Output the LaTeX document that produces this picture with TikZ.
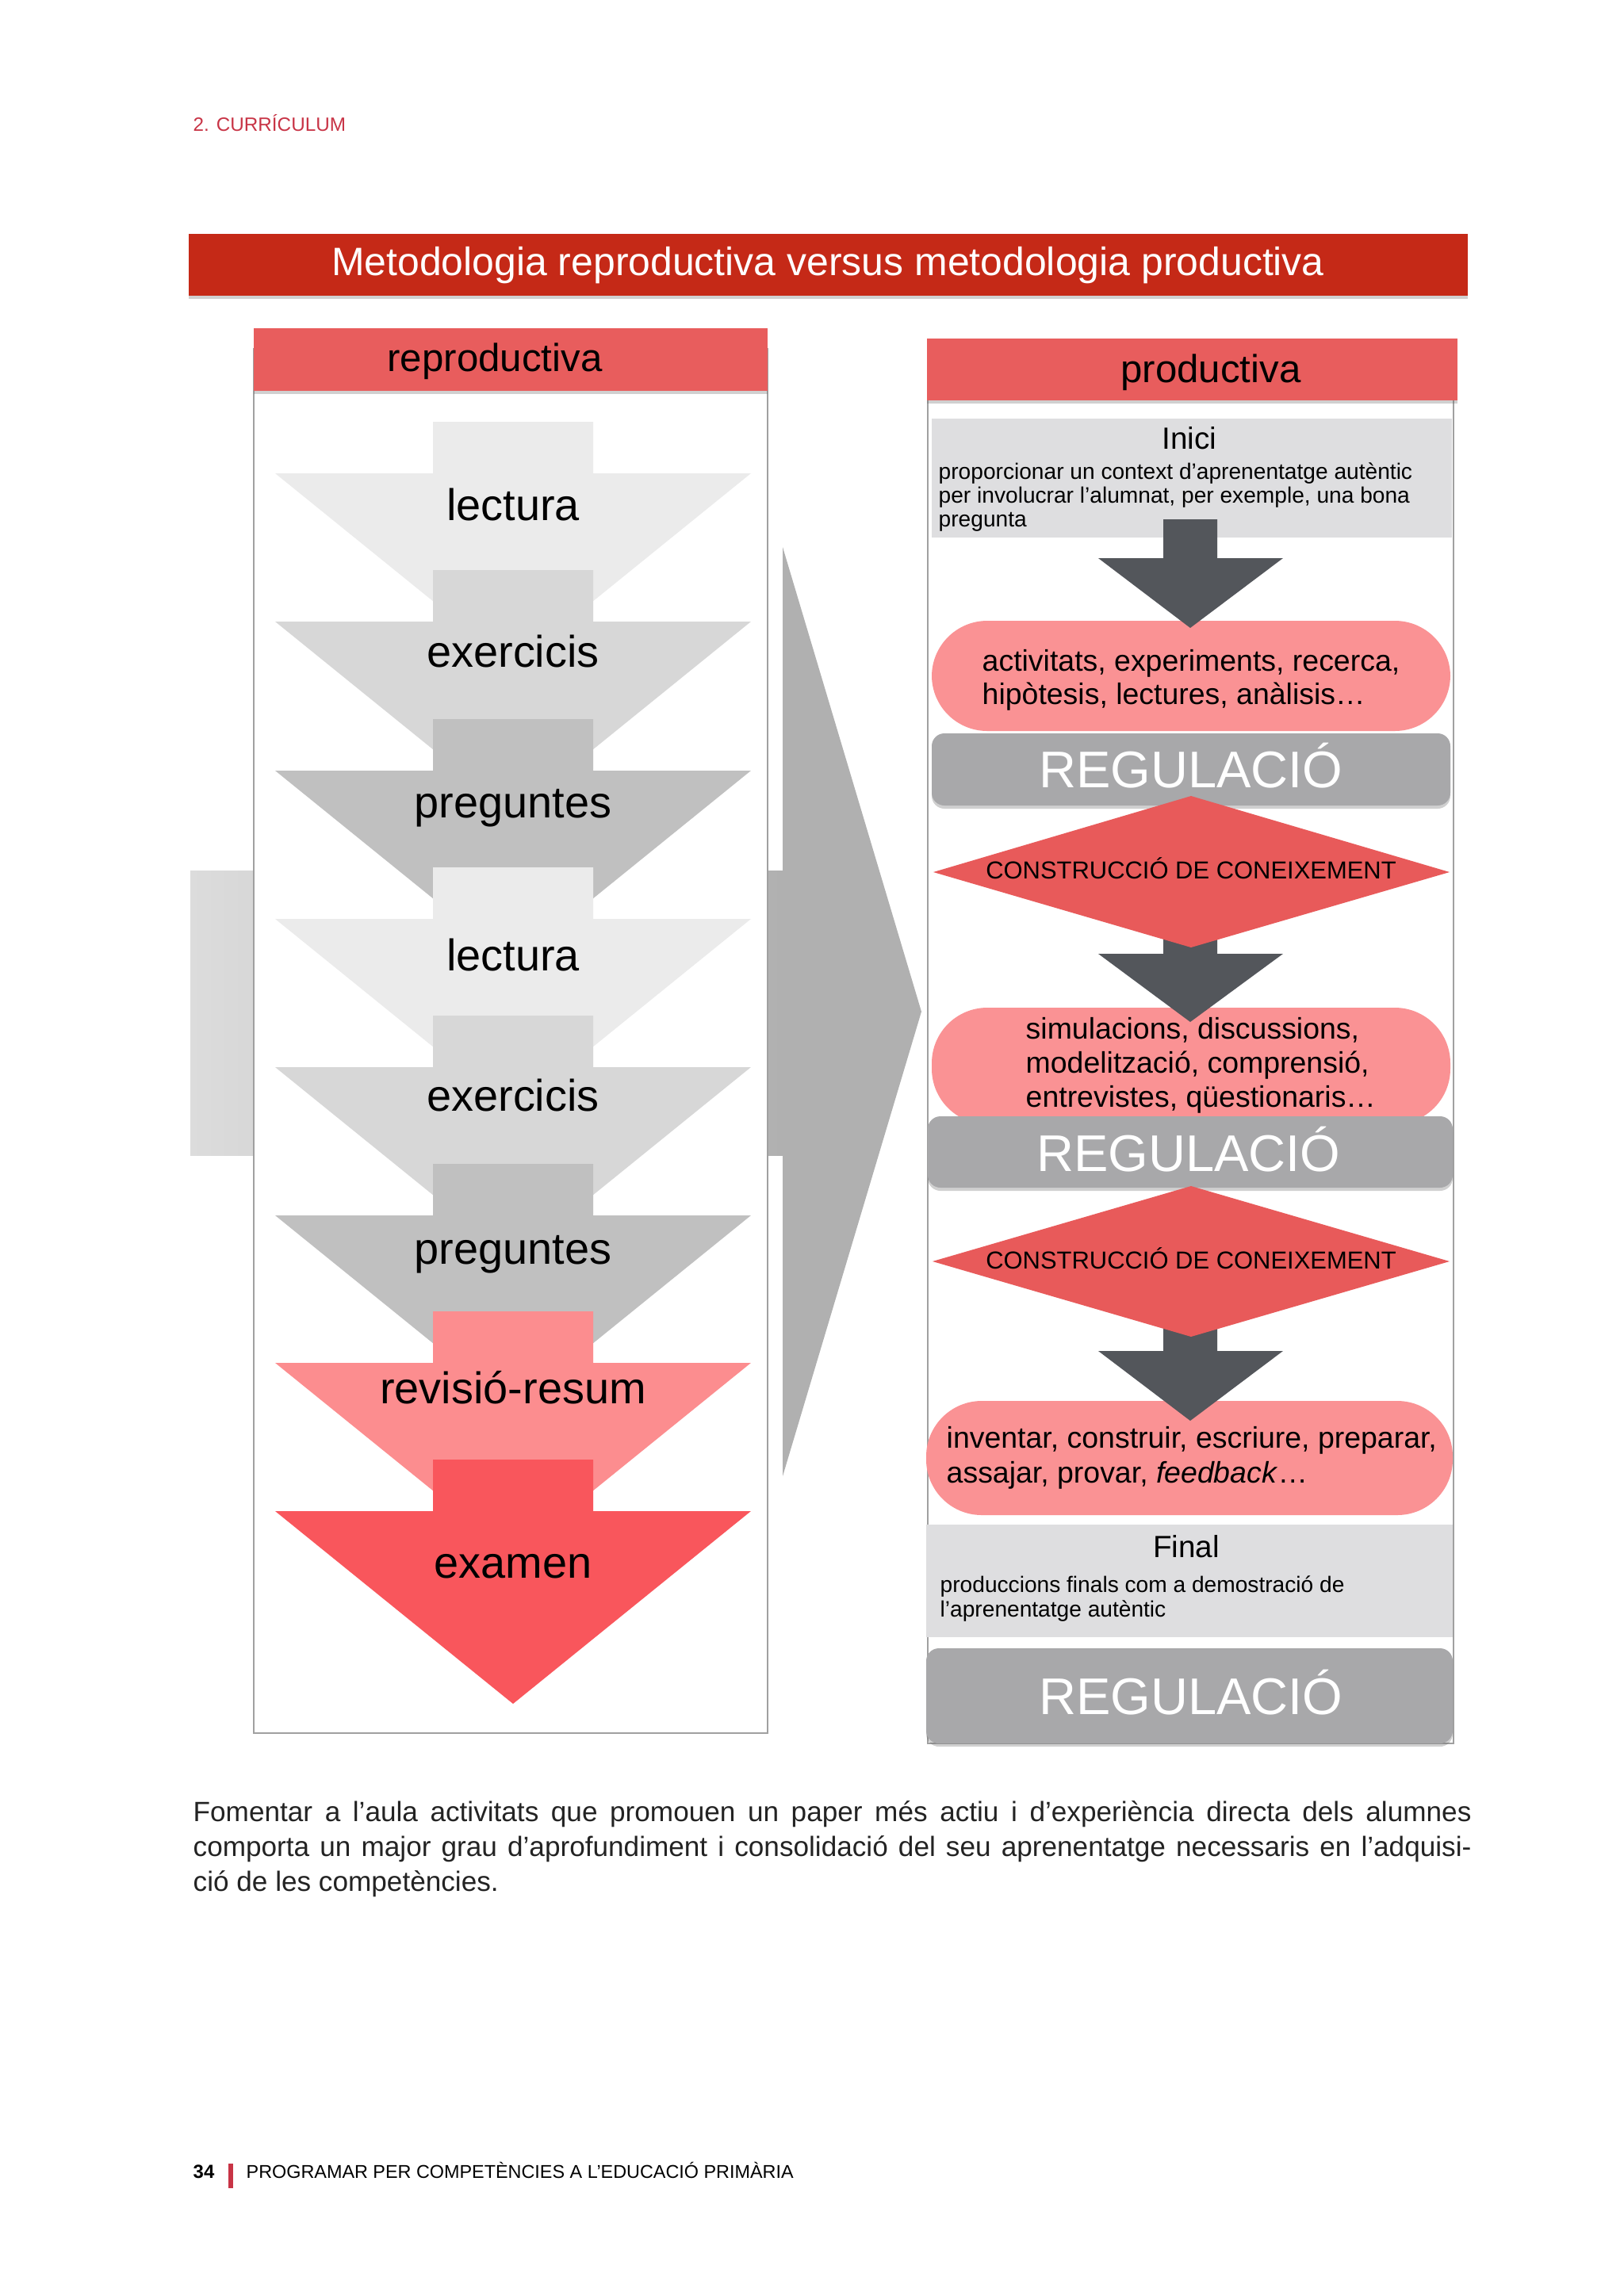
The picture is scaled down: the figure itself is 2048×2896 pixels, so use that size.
\documentclass[tikz,border=0pt]{standalone}
\usepackage{fontspec}
\setmainfont{Liberation Sans}
\usetikzlibrary{shadows}

\definecolor{titlered}{RGB}{197,41,23}
\definecolor{headred}{RGB}{232,93,93}
\definecolor{lect}{RGB}{235,235,235}
\definecolor{exer}{RGB}{215,215,215}
\definecolor{preg}{RGB}{192,192,192}
\definecolor{revi}{RGB}{252,141,143}
\definecolor{exam}{RGB}{249,86,92}
\definecolor{darkarrow}{RGB}{83,86,91}
\definecolor{pillpink}{RGB}{250,146,148}
\definecolor{reggray}{RGB}{168,168,170}
\definecolor{diamred}{RGB}{232,90,90}
\definecolor{boxgray}{RGB}{222,222,224}
\definecolor{bigarrow}{RGB}{176,176,176}
\definecolor{bigarrowlight}{RGB}{220,220,220}
\definecolor{framegray}{RGB}{160,160,160}
\definecolor{pagered}{RGB}{200,52,70}
\definecolor{bodytext}{RGB}{35,35,35}

\tikzset{
  softshadow/.style={drop shadow={shadow xshift=0pt, shadow yshift=-0.04cm, opacity=0.3, fill=black!60}},
  frame/.style={fill=white, draw=framegray, line width=0.6pt},
  steplbl/.style={anchor=base, inner sep=0pt, font=\fontsize{15.9}{18}\selectfont},
  headlbl/.style={anchor=base, inner sep=0pt, font=\fontsize{14}{16}\selectfont},
  regbar/.style={fill=reggray, rounded corners=0.16cm, softshadow},
  reglbl/.style={anchor=base, inner sep=0pt, text=white, font=\fontsize{18.5}{20}\selectfont},
  pill/.style={fill=pillpink, rounded corners=0.7cm},
  pilltxt/.style={anchor=base west, inner sep=0pt, font=\fontsize{10.65}{12}\selectfont},
  diamlbl/.style={anchor=base, inner sep=0pt, font=\fontsize{8.8}{10}\selectfont},
  boxhead/.style={anchor=base, inner sep=0pt, font=\fontsize{11}{13}\selectfont},
  boxtxt/.style={anchor=base west, inner sep=0pt, font=\fontsize{8}{9}\selectfont},
  bodyline/.style={anchor=base west, inner sep=0pt, text=bodytext, font=\fontsize{10}{12}\selectfont}
}

\begin{document}
\begin{tikzpicture}[x=0.01cm, y=-0.01cm]
  \useasboundingbox (0,0) rectangle (2048,2896);
  \fill[white] (0,0) rectangle (2048,2896);

  % page header and title
  \node[anchor=base west, inner sep=0pt, text=pagered, font=\fontsize{6.9}{8}\selectfont] (chap) at (243,165) {2. CURRÍCULUM};
  \fill[titlered, softshadow] (238,295) rectangle (1851,373);
  \node[anchor=base, inner sep=0pt, text=white, font=\fontsize{14.2}{16}\selectfont] (title) at (1044,347) {Metodologia reproductiva versus metodologia productiva};

  % big arrow between the columns
  \shade[left color=bigarrowlight, right color=bigarrow] (240,1098) rectangle (988,1457);
  \fill[bigarrow] (987,690) -- (1162,1276) -- (987,1862) -- cycle;

  % reproductiva
  \fill[frame] (320,440) rectangle (968,2186);
  \fill[headred, softshadow] (320,414) rectangle (968,493);
  \node[headlbl] (repro) at (624,468) {reproductiva};

  \fill[lect] (546,532) -- (748,532) -- (748,597) -- (947,597) -- (647,840) -- (347,597) -- (546,597) -- cycle;
  \node[steplbl] (lect1) at (647,656) {lectura};
  \fill[exer] (546,719) -- (748,719) -- (748,784) -- (947,784) -- (647,1027) -- (347,784) -- (546,784) -- cycle;
  \node[steplbl] (exer1) at (647,841) {exercicis};
  \fill[preg] (546,907) -- (748,907) -- (748,972) -- (947,972) -- (647,1215) -- (347,972) -- (546,972) -- cycle;
  \node[steplbl] (preg1) at (647,1031) {preguntes};
  \fill[lect] (546,1094) -- (748,1094) -- (748,1159) -- (947,1159) -- (647,1402) -- (347,1159) -- (546,1159) -- cycle;
  \node[steplbl] (lect2) at (647,1224) {lectura};
  \fill[exer] (546,1281) -- (748,1281) -- (748,1346) -- (947,1346) -- (647,1589) -- (347,1346) -- (546,1346) -- cycle;
  \node[steplbl] (exer2) at (647,1401) {exercicis};
  \fill[preg] (546,1468) -- (748,1468) -- (748,1533) -- (947,1533) -- (647,1776) -- (347,1533) -- (546,1533) -- cycle;
  \node[steplbl] (preg2) at (647,1594) {preguntes};
  \fill[revi] (546,1654) -- (748,1654) -- (748,1719) -- (947,1719) -- (647,1962) -- (347,1719) -- (546,1719) -- cycle;
  \node[steplbl] (revi) at (647,1770) {revisió-resum};
  \fill[exam] (546,1841) -- (748,1841) -- (748,1906) -- (947,1906) -- (647,2149) -- (347,1906) -- (546,1906) -- cycle;
  \node[steplbl] (exam) at (647,1990) {examen};

  % productiva
  \fill[frame] (1170,460) rectangle (1833,2199);
  \fill[headred, softshadow] (1169,427) rectangle (1838,505);
  \node[headlbl] (produ) at (1527,482) {productiva};

  \fill[boxgray] (1175,528) rectangle (1831,678);
  \node[boxhead] (inici) at (1500,566) {Inici};
  \node[boxtxt] (inici1) at (1183,604) {proporcionar un context d’aprenentatge autèntic};
  \node[boxtxt] (inici2) at (1183,634) {per involucrar l’alumnat, per exemple, una bona};
  \node[boxtxt] (inici3) at (1183,664) {pregunta};

  \fill[pill] (1175,783) rectangle (1829,922);
  \node[pilltxt] (act1) at (1238,846) {activitats, experiments, recerca,};
  \node[pilltxt] (act2) at (1238,888) {hipòtesis, lectures, anàlisis…};
  \fill[darkarrow] (1467,655) -- (1535,655) -- (1535,704) -- (1618,704) -- (1501,792) -- (1385,704) -- (1467,704) -- cycle;

  \fill[regbar] (1175,925) rectangle (1829,1016);
  \node[reglbl] (reg1) at (1502,993) {REGULACIÓ};

  \fill[pill] (1175,1271) rectangle (1829,1418);
  \node[pilltxt] (sim1) at (1293,1310) {simulacions, discussions,};
  \node[pilltxt] (sim2) at (1293,1353) {modelització, comprensió,};
  \node[pilltxt] (sim3) at (1293,1396) {entrevistes, qüestionaris…};
  \fill[darkarrow] (1467,1170) -- (1535,1170) -- (1535,1203) -- (1618,1203) -- (1501,1289) -- (1385,1203) -- (1467,1203) -- cycle;

  \fill[diamred] (1502,1004) -- (1828,1100) -- (1502,1195) -- (1177,1100) -- cycle;
  \node[diamlbl] (cons1) at (1502,1108) {CONSTRUCCIÓ DE CONEIXEMENT};

  \fill[regbar] (1170,1408) rectangle (1832,1498);
  \node[reglbl] (reg2) at (1499,1477) {REGULACIÓ};

  \fill[pill] (1168,1767) rectangle (1832,1911);
  \node[pilltxt] (inv1) at (1193,1826) {inventar, construir, escriure, preparar,};
  \node[pilltxt] (inv2) at (1193,1870) {assajar, provar, \textit{feedback}…};
  \fill[darkarrow] (1467,1675) -- (1535,1675) -- (1535,1704) -- (1618,1704) -- (1501,1792) -- (1385,1704) -- (1467,1704) -- cycle;

  \fill[diamred] (1502,1496) -- (1828,1591) -- (1502,1686) -- (1176,1591) -- cycle;
  \node[diamlbl] (cons2) at (1502,1600) {CONSTRUCCIÓ DE CONEIXEMENT};

  \fill[boxgray] (1168,1923) rectangle (1832,2065);
  \node[boxhead] (final) at (1496,1964) {Final};
  \node[boxtxt] (final1) at (1185,2008) {produccions finals com a demostració de};
  \node[boxtxt] (final2) at (1185,2039) {l’aprenentatge autèntic};

  \fill[regbar] (1168,2079) rectangle (1832,2199);
  \node[reglbl] (reg3) at (1502,2162) {REGULACIÓ};

  % text below the figure
  \node[bodyline] (par1) at (243,2297) {\makebox[16.11cm][s]{Fomentar a l’aula activitats que promouen un paper més actiu i d’experiència directa dels alumnes}};
  \node[bodyline] (par2) at (243,2341) {\makebox[16.11cm][s]{comporta un major grau d’aprofundiment i consolidació del seu aprenentatge necessaris en l’adquisi-}};
  \node[bodyline] (par3) at (243,2385) {ció de les competències.};

  % footer
  \node[anchor=base west, inner sep=0pt, font=\bfseries\fontsize{6.8}{8}\selectfont] (pgnum) at (243,2747) {34};
  \fill[pagered] (288,2729) rectangle (294,2760);
  \node[anchor=base west, inner sep=0pt, font=\fontsize{6.65}{8}\selectfont] (foot) at (310,2747) {PROGRAMAR PER COMPETÈNCIES A L’EDUCACIÓ PRIMÀRIA};
\end{tikzpicture}
\end{document}
